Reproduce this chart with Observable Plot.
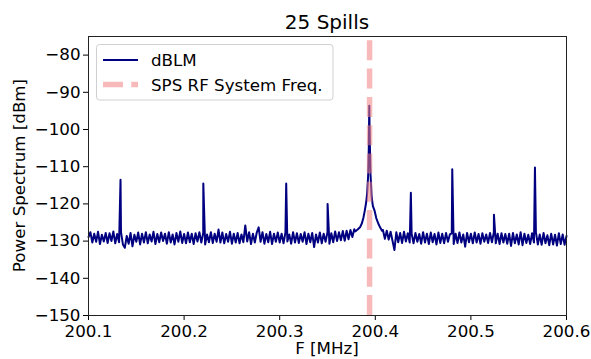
<!DOCTYPE html>
<html><head><meta charset="utf-8">
<script src="https://cdn.jsdelivr.net/npm/d3@7"></script>
<script src="https://cdn.jsdelivr.net/npm/@observablehq/plot@0.6"></script>
<style>body{margin:0;background:#fff} svg{display:block}</style>
</head><body><div id="chart"></div>
<script>
// ---- data ----
const titleText = "25 Spills";
const xLabel = "F [MHz]";
const yLabel = "Power Spectrum [dBm]";
const seriesName = "dBLM";
const rfName = "SPS RF System Freq.";
const rfFreq = 200.394;
const xTicks = [200.1, 200.2, 200.3, 200.4, 200.5, 200.6];
const yTicks = [-150, -140, -130, -120, -110, -100, -90, -80];

// spectrum bins (start 200.1 MHz, bin width 0.002 MHz); null = covered by main peak
const binStart = 200.1, binWidth = 0.002;
const noiseDbm = [
 -128.9,-127.6,-130.4,-128.0,-130.2,-127.5,-130.8,-128.3,-130.1,-127.8,
 -130.5,-127.9,-130.0,-127.4,-130.6,-128.1,-130.3,-127.6,-130.9,-131.8,
 -128.6,-130.7,-127.8,-131.4,-128.3,-130.2,-127.7,-130.9,-128.0,-130.4,
 -127.6,-130.6,-128.2,-130.1,-127.5,-130.8,-128.1,-130.3,-127.7,-130.0,
 -128.0,-130.7,-127.6,-130.4,-128.2,-130.9,-127.8,-130.2,-127.4,-130.5,
 -128.1,-130.6,-127.7,-130.3,-128.0,-130.8,-127.9,-130.1,-127.6,-130.4,
 -127.8,-130.9,-128.2,-130.3,-127.6,-130.5,-128.0,-130.2,-126.9,-130.4,
 -127.7,-130.6,-128.1,-130.2,-127.5,-130.7,-128.0,-130.4,-127.8,-130.6,
 -128.2,-130.3,-125.8,-130.1,-127.6,-130.8,-128.0,-130.4,-127.7,-126.3,
 -130.2,-127.6,-130.7,-128.1,-130.3,-127.5,-130.8,-128.0,-130.2,-127.7,
 -130.4,-128.0,-130.6,-127.7,-130.1,-128.2,-130.7,-127.6,-130.4,-127.9,
 -130.5,-128.1,-130.2,-127.6,-130.8,-128.0,-130.3,-127.8,-131.6,-128.2,
 -130.4,-127.7,-130.6,-128.0,-130.2,-127.6,-130.7,-127.9,-130.3,-127.4,
 -130.0,-127.6,-129.8,-127.3,-129.9,-127.2,-129.5,-127.0,-128.9,-126.8,
 null,null,null,null,null,null,null,null,null,null,
 null,null,null,null,-127.0,-129.4,-127.2,-129.6,-127.5,-129.9,
 -132.4,-127.6,-130.3,-127.8,-130.5,-127.5,-130.1,-127.9,-130.4,-128.0,
 -130.6,-127.8,-130.2,-128.1,-130.7,-127.6,-130.4,-128.0,-130.8,-127.7,
 -130.3,-128.1,-130.9,-127.7,-130.5,-128.0,-130.6,-127.8,-130.2,-128.2,
 -127.9,-130.8,-128.0,-130.5,-127.7,-130.4,-128.2,-131.5,-127.8,-130.3,
 -128.0,-130.6,-127.7,-130.4,-128.1,-130.7,-127.9,-130.2,-128.2,-130.5,
 -127.8,-130.3,-127.6,-130.6,-128.0,-130.8,-127.9,-130.4,-128.1,-130.7,
 -128.0,-131.3,-127.8,-130.6,-128.2,-130.9,-127.6,-131.1,-128.0,-130.5,
 -128.3,-130.8,-127.9,-130.4,-127.6,-130.9,-128.2,-131.0,-127.8,-130.6,
 -128.4,-131.1,-128.0,-130.9,-128.3,-131.2,-127.9,-130.8,-128.2,-131.0,-128.6
];

// narrow spectral lines
const spikeFreq = [200.1335, 200.2201, 200.3068, 200.3501, 200.4372, 200.4805, 200.5241, 200.5670];
const spikeDbm  = [-113.5, -114.5, -114.5, -120.0, -117.0, -110.7, -122.9, -110.2];

// main (RF) peak
const peakFreq = [200.3790,200.3815,200.3840,200.3860,200.3875,200.3890,200.3905,200.3915,200.3925,200.3932,
                  200.3937,200.3943,200.3950,200.3962,200.3975,200.3992,200.4010,200.4030,200.4050,200.4070];
const peakDbm  = [-127.4,-126.9,-126.3,-125.2,-123.8,-121.8,-119.5,-117.0,-112.5,-105.0,
                  -93.6,-104.0,-112.0,-118.2,-120.6,-121.8,-123.8,-125.2,-126.3,-127.2];

// ---- build table ----
const rows = [];
noiseDbm.forEach((v, i) => { if (v != null) rows.push({f: binStart + i * binWidth, p: v}); });
spikeFreq.forEach((f, i) => rows.push({f, p: spikeDbm[i]}));
peakFreq.forEach((f, i) => rows.push({f, p: peakDbm[i]}));
rows.sort((a, b) => a.f - b.f);

const navy = "#000080";
const pink = "lightcoral";

const chart = Plot.plot({
  width: 591, height: 359,
  marginLeft: 88, marginRight: 25, marginTop: 36, marginBottom: 44,
  style: {fontFamily: "DejaVu Sans", fontSize: "16.7px", color: "#000", background: "#fff", overflow: "visible"},
  x: {domain: [200.1, 200.6], ticks: xTicks, tickFormat: d3.format(".1f"), tickSize: 5, tickPadding: 4.5, label: null},
  y: {domain: [-150, -75], ticks: yTicks, tickFormat: d3.format("d"), tickSize: 5, tickPadding: 3, label: null},
  marks: [
    Plot.line(rows, {x: "f", y: "p", stroke: navy, strokeWidth: 2, strokeLinejoin: "round"}),
    Plot.ruleX([rfFreq], {x: d => d, y1: -150, y2: -75, stroke: pink, strokeOpacity: 0.55, strokeWidth: 5.5, strokeDasharray: "20,8.3"}),
    Plot.frame({stroke: "#222", strokeWidth: 1})
  ]
});

const svg = d3.select(chart);
svg.append("text").attr("x", 327).attr("y", 29).attr("text-anchor", "middle")
  .style("font-size", "20px").text(titleText);
svg.append("text").attr("x", 327).attr("y", 354).attr("text-anchor", "middle").text(xLabel);
svg.append("text").attr("transform", "translate(25,175.5) rotate(-90)").attr("text-anchor", "middle").text(yLabel);

const lg = svg.append("g").attr("text-anchor", "start");
lg.append("rect").attr("x", 96.5).attr("y", 44.5).attr("width", 236.5).attr("height", 55.5).attr("rx", 3)
  .attr("fill", "#fff").attr("fill-opacity", 0.8).attr("stroke", "#d0d0d0");
lg.append("line").attr("x1", 103).attr("x2", 138).attr("y1", 60).attr("y2", 60)
  .attr("stroke", navy).attr("stroke-width", 2);
lg.append("text").attr("x", 151).attr("y", 65.5).attr("text-anchor", "start").text(seriesName);
lg.append("line").attr("x1", 103).attr("x2", 138).attr("y1", 84.5).attr("y2", 84.5)
  .attr("stroke", pink).attr("stroke-opacity", 0.55).attr("stroke-width", 5.5).attr("stroke-dasharray", "20,8.3");
lg.append("text").attr("x", 151).attr("y", 90.5).attr("text-anchor", "start").text(rfName);

document.getElementById("chart").append(chart);
</script></body></html>
